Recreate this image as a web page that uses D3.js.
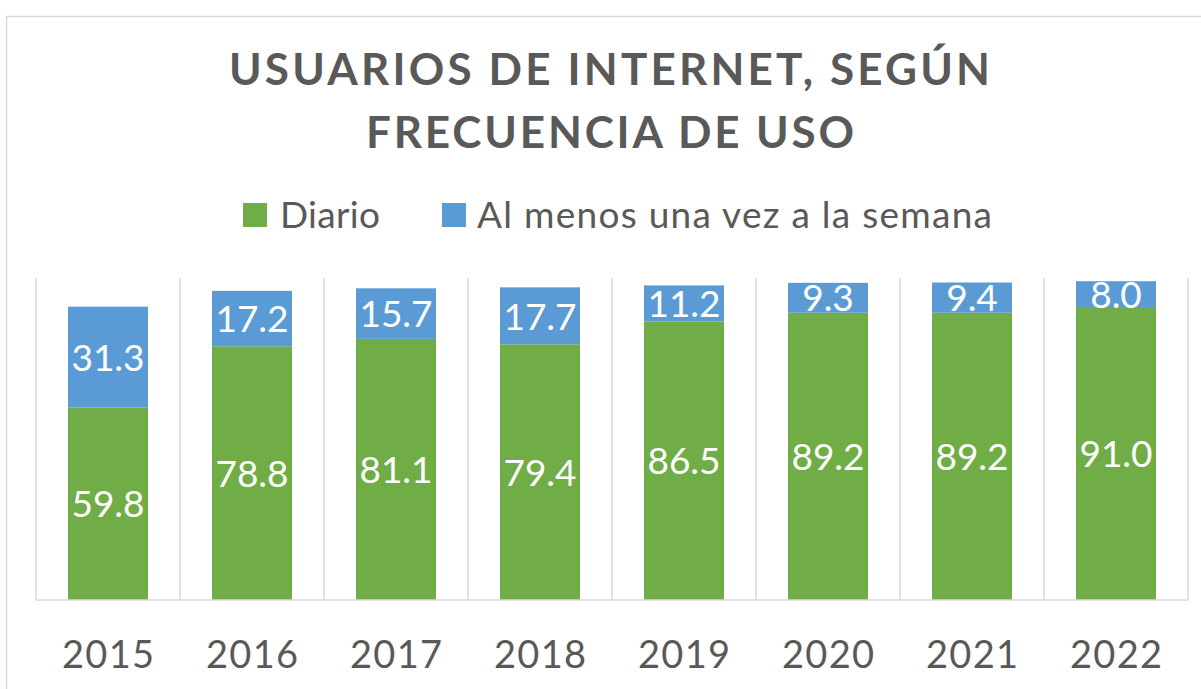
<!DOCTYPE html>
<html>
<head>
<meta charset="utf-8">
<script src="https://cdn.jsdelivr.net/npm/d3@7"></script>
<style>
  html, body { margin: 0; padding: 0; background: #fff; }
  svg { display: block; }
  text { font-family: Lato, "Open Sans", sans-serif; }
</style>
</head>
<body>
<svg id="chart" width="1201" height="689"></svg>
<script>
const years = ["2015", "2016", "2017", "2018", "2019", "2020", "2021", "2022"];
const diario = [59.8, 78.8, 81.1, 79.4, 86.5, 89.2, 89.2, 91.0];
const semanal = [31.3, 17.2, 15.7, 17.7, 11.2, 9.3, 9.4, 8.0];
const seriesNames = ["Diario", "Al menos una vez a la semana"];
const seriesColors = ["#70AD47", "#5B9BD5"];
const titleLines = ["USUARIOS DE INTERNET, SEGÚN", "FRECUENCIA DE USO"];

const svg = d3.select("#chart");
const gray = "#595959", grid = "#d9d9d9";

// outer border
svg.append("rect").attr("x", 6.5).attr("y", 16.5).attr("width", 1210).attr("height", 700)
  .attr("fill", "none").attr("stroke", grid).attr("stroke-width", 1.5);

const plot = { left: 36, right: 1188, top: 278, bottom: 600 };

const x = d3.scaleBand().domain(years).range([plot.left, plot.right])
  .paddingInner(64 / 144).paddingOuter(32 / 144);
const y = d3.scaleLinear().domain([0, 100]).range([plot.bottom, plot.top]);

const rows = years.map((yr, i) => ({ year: yr, diario: diario[i], semanal: semanal[i] }));
const stack = d3.stack().keys(["diario", "semanal"])(rows);

// title
const titleBox = [[229, 990, 85], [366, 854, 148]];
titleLines.forEach((t, i) => {
  const [x0, x1, base] = titleBox[i];
  svg.append("text").attr("x", x0).attr("y", base)
    .attr("font-size", 44).attr("font-weight", 700).attr("fill", gray)
    .attr("textLength", x1 - x0).attr("lengthAdjust", "spacing")
    .text(t);
});

// legend
const legendPos = [[243, 280, 380], [442, 477, 992]];
seriesNames.forEach((name, i) => {
  const [sx, tx0, tx1] = legendPos[i];
  svg.append("rect").attr("x", sx).attr("y", 203).attr("width", 24).attr("height", 24)
    .attr("fill", seriesColors[i]);
  svg.append("text").attr("x", tx0).attr("y", 228)
    .attr("font-size", 37).attr("fill", gray)
    .attr("textLength", tx1 - tx0).attr("lengthAdjust", "spacing")
    .text(name);
});

// vertical gridlines at category boundaries
const step = x.step();
const bounds = years.map(d => x(d) - (step - x.bandwidth()) / 2).concat([plot.right]);
svg.append("g").selectAll("line").data(bounds).join("line")
  .attr("x1", d => d).attr("x2", d => d)
  .attr("y1", plot.top).attr("y2", plot.bottom)
  .attr("stroke", grid).attr("stroke-width", 1.5);

// bars
const groups = svg.append("g").selectAll("g").data(stack).join("g")
  .attr("fill", (d, i) => seriesColors[i]);
groups.selectAll("rect").data(d => d).join("rect")
  .attr("x", d => x(d.data.year))
  .attr("width", x.bandwidth())
  .attr("y", d => y(d[1]))
  .attr("height", d => y(d[0]) - y(d[1]));

// x axis
const xAxis = svg.append("g").attr("transform", `translate(0,${plot.bottom})`)
  .call(d3.axisBottom(x).tickSize(0).tickSizeOuter(0));
xAxis.select(".domain").attr("stroke", grid).attr("stroke-width", 1.5)
  .attr("d", `M${plot.left},0H${plot.right}`);
xAxis.selectAll(".tick text")
  .attr("y", 68).attr("dy", 0)
  .attr("font-size", 38).attr("fill", gray)
  .attr("font-family", "Lato, 'Open Sans', sans-serif")
  .attr("textLength", 92).attr("lengthAdjust", "spacing");

// data labels
groups.selectAll("text").data(d => d).join("text")
  .attr("x", d => x(d.data.year) + x.bandwidth() / 2)
  .attr("y", d => (y(d[0]) + y(d[1])) / 2)
  .attr("dy", "0.37em")
  .attr("text-anchor", "middle")
  .attr("font-size", 37).attr("fill", "#fff")
  .text(d => d3.format(".1f")(d[1] - d[0]));
</script>
</body>
</html>
